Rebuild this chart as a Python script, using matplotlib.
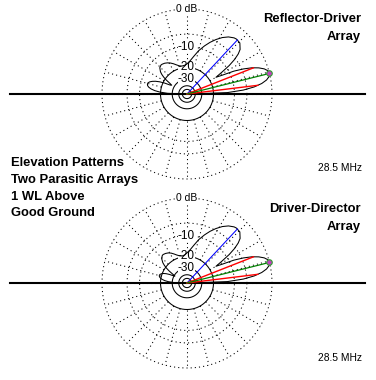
import numpy as np
import matplotlib.pyplot as plt

plt.rcParams['font.family'] = ['Liberation Sans', 'DejaVu Sans']
plt.rcParams['lines.scale_dashes'] = False

# elevation angle (deg) and relative gain (dB)
elev = [0, 2, 4, 6, 8, 10, 12, 14, 16, 18, 20, 22, 24, 26, 28, 30, 32, 34, 36, 38,
        40, 44, 48, 50, 54, 58, 62, 66, 70, 75, 80, 85, 90, 95, 100, 105, 110, 114,
        118, 122, 126, 130, 132, 136, 140, 142, 144, 146, 148, 150, 152, 154, 156,
        158, 160, 162, 164, 166, 168, 170, 172, 174, 176, 178, 180]

front_db = [-60, -12.74, -7.01, -3.94, -2.04, -0.87, -0.22, 0.0, -0.15, -0.77, -1.83,
            -3.34, -5.53, -8.4, -12.8, -16.0, -12.5, -8.8, -6.3, -4.6, -3.5,
            -2.5, -2.4, -2.55, -3.2, -4.2, -5.5, -7.0, -8.7, -11.0, -13.8,
            -16.2, -17.8]

back_refl_driver = [-18.6, -18.8, -18.4, -17.3, -16.2, -15.2, -14.4, -13.8,
                    -13.45, -13.4, -13.9, -15.4, -16.7, -18.5, -21.0, -24.5,
                    -27.0, -25.73, -20.98, -17.88, -15.72, -14.28, -13.27, -12.70,
                    -12.60, -12.82, -13.47, -14.64, -16.54, -19.61, -25.34, -60]

back_driver_dir = [-19.0, -19.4, -19.0, -18.0, -16.9, -15.8, -15.0, -14.5,
                   -14.2, -14.3, -15.1, -17.0, -18.6, -20.6, -23.5, -27.5,
                   -31.0, -29.53, -25.18, -22.48, -20.72, -19.63, -18.92, -18.65,
                   -18.70, -19.12, -19.87, -21.14, -23.04, -26.11, -31.84, -60]

gain_refl_driver = front_db + back_refl_driver
gain_driver_dir = front_db + back_driver_dir

# markers: main lobe peak, second lobe peak, -3 dB points
peak_main = (14.0, 0.0)
peak_second = (47.0, -2.4)
half_power = [(21.5, -3.0), (7.0, -3.0)]

dotted_rings = [0, -6, -10]
solid_rings = [-20, -30, -40, -50]
ring_labels = [(0, '0 dB', 7.5), (-10, '-10', 8.5), (-20, '-20', 8.5), (-30, '-30', 8.5)]
spokes = np.arange(0, 360, 15)

R_PX = 85.0


def arrl(db):
    # ARRL log scale: 0.89 ** (-dB/2)
    return 0.89 ** (-np.asarray(db, dtype=float) / 2.0)


def draw_pattern(ax, gain):
    dots = (0, (0.8, 2.2))
    t = np.linspace(0, 2 * np.pi, 400)
    for db in dotted_rings:
        r = arrl(db)
        ax.plot(r * np.cos(t), r * np.sin(t), color='k', lw=0.75, ls=dots, zorder=1)
    for db in solid_rings:
        r = arrl(db)
        ax.plot(r * np.cos(t), r * np.sin(t), color='k', lw=0.75, zorder=1)
    r_in, r_out = arrl(-20), arrl(0)
    for a in np.radians(spokes):
        ax.plot([r_in * np.cos(a), r_out * np.cos(a)], [r_in * np.sin(a), r_out * np.sin(a)],
                color='k', lw=0.75, ls=dots, zorder=1)

    for db, lab, fs in ring_labels:
        ax.text(-0.01, arrl(db), lab, ha='center', va='center', fontsize=fs, zorder=2,
                bbox=dict(facecolor='white', edgecolor='none', pad=0.0))

    ax.axhline(0, xmin=10 / 376, xmax=365 / 376, color='k', lw=1.5, zorder=3)

    th = np.radians(elev)
    r = arrl(gain)
    ax.plot(r * np.cos(th), r * np.sin(th), color='k', lw=0.75, zorder=4)

    a, g = peak_second
    ax.plot([0, arrl(g) * np.cos(np.radians(a))], [0, arrl(g) * np.sin(np.radians(a))],
            color='#0000ff', lw=0.75, zorder=5)
    for a, g in half_power:
        ax.plot([0, arrl(g) * np.cos(np.radians(a))], [0, arrl(g) * np.sin(np.radians(a))],
                color='#ff0000', lw=1.0, zorder=5)
    a, g = peak_main
    x, y = arrl(g) * np.cos(np.radians(a)), arrl(g) * np.sin(np.radians(a))
    ax.plot([0, x], [0, y], color='#008000', lw=0.9, zorder=5)
    ax.plot([x], [y], marker='o', ms=4, mfc='#c040c0', mec='#30a030', mew=0.8, zorder=6)


fig = plt.figure(figsize=(3.76, 3.80), dpi=100)

ax1 = fig.add_axes([0, 191 / 380, 1, 189 / 380])
ax1.set_xlim(-187 / R_PX, 189 / R_PX)
ax1.set_ylim(-95 / R_PX, 94 / R_PX)
ax2 = fig.add_axes([0, 0, 1, 191 / 380])
ax2.set_xlim(-187 / R_PX, 189 / R_PX)
ax2.set_ylim(-97 / R_PX, 94 / R_PX)

draw_pattern(ax1, gain_refl_driver)
draw_pattern(ax2, gain_driver_dir)
for ax in (ax1, ax2):
    ax.axis('off')


def ftext(x, y, s, **kw):
    fig.text(x / 376, 1 - y / 380, s, **kw)


bold = dict(fontsize=9.4, fontweight='bold', va='center')
ftext(361, 19, 'Reflector-Driver', ha='right', **bold)
ftext(361, 37, 'Array', ha='right', **bold)
ftext(361, 209, 'Driver-Director', ha='right', **bold)
ftext(361, 227, 'Array', ha='right', **bold)
for i, line in enumerate(['Elevation Patterns', 'Two Parasitic Arrays', '1 WL Above', 'Good Ground']):
    ftext(11, 163 + 16.8 * i, line, ha='left', **bold)
ftext(362, 168, '28.5 MHz', ha='right', va='center', fontsize=7.4)
ftext(362, 358, '28.5 MHz', ha='right', va='center', fontsize=7.4)

fig.savefig('out.png', dpi=100, facecolor='white')
